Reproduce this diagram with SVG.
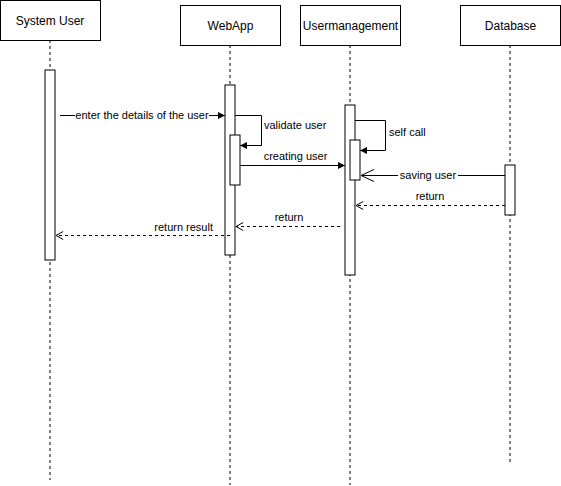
<svg xmlns="http://www.w3.org/2000/svg" width="561" height="486" viewBox="0 0 561 486">
  <style>
    .box{fill:#fff;stroke:#000;stroke-width:1}
    .life{fill:none;stroke:#000;stroke-width:1;stroke-dasharray:3 3}
    .msg{fill:none;stroke:#000;stroke-width:1}
    .ret{fill:none;stroke:#000;stroke-width:1;stroke-dasharray:3 3}
    .head{font-family:Helvetica,"Liberation Sans",Arial,sans-serif;font-size:12px;fill:#000;text-anchor:middle}
    .lbl{font-family:Helvetica,"Liberation Sans",Arial,sans-serif;font-size:11px;fill:#000}
  </style>
  <defs>
    <marker id="block" viewBox="0 0 10 10" refX="10" refY="5" markerWidth="7" markerHeight="7" markerUnits="userSpaceOnUse" orient="auto">
      <path d="M0,0 L10,5 L0,10 Z" fill="#000"/>
    </marker>
    <marker id="open" viewBox="0 0 10 10" refX="9" refY="5" markerWidth="8" markerHeight="8" markerUnits="userSpaceOnUse" orient="auto" overflow="visible">
      <path d="M0,0 L9,5 L0,10" fill="none" stroke="#000" stroke-width="1.25"/>
    </marker>
    <marker id="openBig" viewBox="0 0 14 14" refX="13" refY="7" markerWidth="14" markerHeight="14" markerUnits="userSpaceOnUse" orient="auto" overflow="visible">
      <path d="M0,1 L13,7 L0,13" fill="none" stroke="#000" stroke-width="1"/>
    </marker>
  </defs>

  <!-- lifelines -->
  <g id="lifelines">
    <line class="life" x1="50" y1="40" x2="50" y2="480"/>
    <line class="life" x1="230" y1="45" x2="230" y2="485"/>
    <line class="life" x1="350" y1="45" x2="350" y2="485"/>
    <line class="life" x1="510" y1="45" x2="510" y2="462"/>
  </g>

  <g id="system-user">
    <rect class="box" x="0.5" y="0.5" width="100" height="40"/>
    <text class="head" x="50" y="24.5">System User</text>
    <rect class="box" x="45" y="70" width="10" height="190"/>
  </g>

  <g id="webapp">
    <rect class="box" x="180.5" y="5.5" width="100" height="40"/>
    <text class="head" x="230.5" y="29.5">WebApp</text>
    <rect class="box" x="225" y="85" width="10" height="170"/>
    <rect class="box" x="230" y="135" width="10" height="50"/>
  </g>

  <g id="usermanagement">
    <rect class="box" x="300.5" y="5.5" width="100" height="40"/>
    <text class="head" x="350.5" y="29.5">Usermanagement</text>
    <rect class="box" x="345" y="105" width="10" height="170"/>
    <rect class="box" x="350" y="140" width="10" height="40"/>
  </g>

  <g id="database">
    <rect class="box" x="460.5" y="5.5" width="100" height="40"/>
    <text class="head" x="510.5" y="29.5">Database</text>
    <rect class="box" x="505" y="165" width="10" height="50"/>
  </g>

  <!-- messages -->
  <g id="connectors">
    <line class="msg" x1="60" y1="115.5" x2="225" y2="115.5" marker-end="url(#block)"/>
    <path class="msg" d="M235,115.5 H261.5 V145.5 H240" marker-end="url(#block)"/>
    <line class="msg" x1="240" y1="165.5" x2="345" y2="165.5" marker-end="url(#block)"/>
    <path class="msg" d="M355,120.5 H385.5 V150.5 H360" marker-end="url(#block)"/>
    <line class="msg" x1="505" y1="175.5" x2="361" y2="175.5" marker-end="url(#openBig)"/>
    <line class="ret" x1="505" y1="205.5" x2="356" y2="205.5" marker-end="url(#open)"/>
    <line class="ret" x1="340" y1="226.5" x2="236" y2="226.5" marker-end="url(#open)"/>
    <line class="ret" x1="230" y1="235.5" x2="56" y2="235.5" marker-end="url(#open)"/>
  </g>

  <!-- message labels -->
  <g id="labels">
    <rect x="75" y="109" width="134" height="13" fill="#fff"/>
    <text class="lbl" x="142" y="119" text-anchor="middle">enter the details of the user</text>
    <text class="lbl" x="264" y="129">validate user</text>
    <text class="lbl" x="295.5" y="160" text-anchor="middle">creating user</text>
    <text class="lbl" x="389" y="136">self call</text>
    <rect x="398" y="169" width="60" height="13" fill="#fff"/>
    <text class="lbl" x="428" y="179" text-anchor="middle">saving user</text>
    <text class="lbl" x="430" y="200" text-anchor="middle">return</text>
    <text class="lbl" x="289" y="221" text-anchor="middle">return</text>
    <text class="lbl" x="213" y="231" text-anchor="end">return result</text>
  </g>
</svg>
